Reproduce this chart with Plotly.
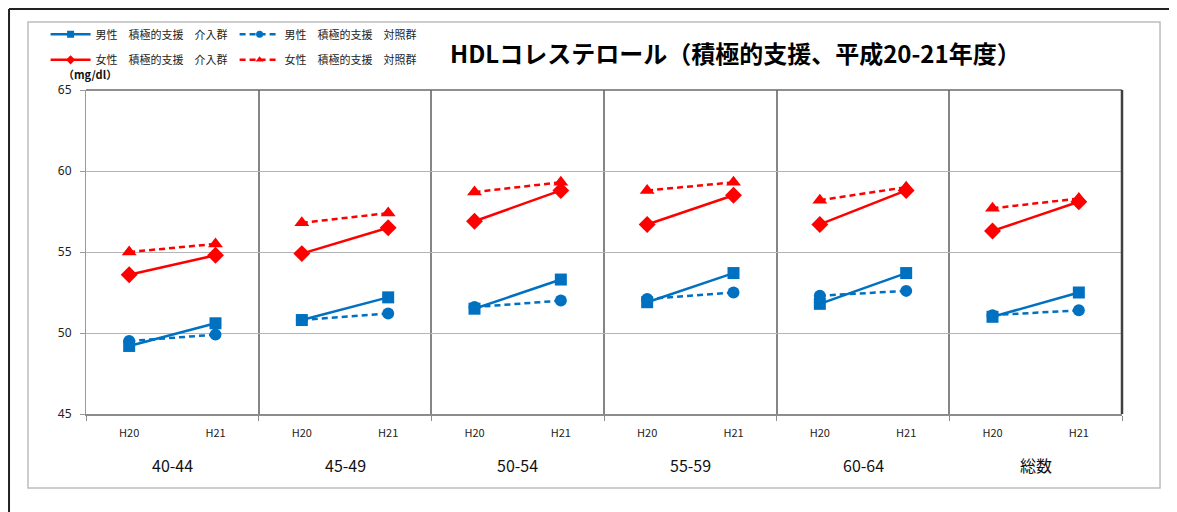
import plotly.graph_objects as go

groups = ["40-44", "45-49", "50-54", "55-59", "60-64", "総数"]
years = ["H20", "H21"]

# values in mg/dl, H20 then H21 for each group
male_int = [49.2, 50.6, 50.8, 52.2, 51.5, 53.3, 51.9, 53.7, 51.8, 53.7, 51.0, 52.5]
male_ctl = [49.5, 49.9, 50.8, 51.2, 51.6, 52.0, 52.1, 52.5, 52.3, 52.6, 51.1, 51.4]
female_int = [53.6, 54.8, 54.9, 56.5, 56.9, 58.8, 56.7, 58.5, 56.7, 58.8, 56.3, 58.1]
female_ctl = [55.0, 55.5, 56.8, 57.4, 58.7, 59.3, 58.8, 59.3, 58.2, 59.0, 57.7, 58.3]

series_names = [
    "男性　積極的支援　介入群",
    "男性　積極的支援　対照群",
    "女性　積極的支援　介入群",
    "女性　積極的支援　対照群",
]
title_text = "HDLコレステロール（積極的支援、平成20-21年度）"

BLUE = "#0070C0"
RED = "#FF0000"
FONT = "Noto Sans CJK JP"


def segments(vals):
    # one short line per age group, gaps between groups
    xs, ys = [], []
    n = len(years)
    for gi in range(len(groups)):
        for yi in range(n):
            xs.append(gi * n + yi)
            ys.append(vals[gi * n + yi])
        xs.append(None)
        ys.append(None)
    return xs, ys


styles = [
    (male_int, BLUE, "solid", "square", 12, "legend"),
    (male_ctl, BLUE, "6px,4px", "circle", 12, "legend"),
    (female_int, RED, "solid", "diamond", 13, "legend2"),
    (female_ctl, RED, "6px,4px", "triangle-up", 13, "legend2"),
]

fig = go.Figure()
for name, (vals, color, dash, sym, size, leg) in zip(series_names, styles):
    xs, ys = segments(vals)
    fig.add_trace(go.Scatter(
        x=xs, y=ys, mode="lines+markers", name=name, showlegend=False,
        line=dict(color=color, width=2.5, dash=dash),
        marker=dict(symbol=sym, size=size, color=color),
    ))
    # legend entry with smaller symbol, like the excel legend
    fig.add_trace(go.Scatter(
        x=[None], y=[None], mode="lines+markers", name=name, legend=leg,
        line=dict(color=color, width=2.5, dash=dash),
        marker=dict(symbol=sym, size=7, color=color),
    ))

tickvals = list(range(len(groups) * len(years)))
ticktext = years * len(groups)

for gi, g in enumerate(groups):
    fig.add_annotation(x=gi * len(years) + 0.5, y=-0.157, xref="x", yref="paper",
                       xanchor="center", yanchor="middle",
                       text=g, showarrow=False, font=dict(size=16, color="#111"))

fig.add_annotation(x=0.004, y=1.048, xref="paper", yref="paper", text="<b>（mg/dl）</b>",
                   xanchor="center", yanchor="middle",
                   showarrow=False, font=dict(size=11, color="#111"))
fig.add_annotation(x=0.6265, y=1.117, xref="paper", yref="paper", text="<b>" + title_text + "</b>",
                   xanchor="center", yanchor="middle",
                   showarrow=False, font=dict(size=24, color="#000"))

# frames
fig.add_shape(type="rect", xref="paper", yref="paper", x0=-0.056, x1=1.0367,
              y0=-0.2284, y1=1.2099, line=dict(color="#bdbdbd", width=1.5), layer="below")
fig.add_shape(type="line", xref="paper", yref="paper", x0=-0.0743, x1=1.1, y0=1.25, y1=1.25,
              line=dict(color="#222", width=2))
fig.add_shape(type="line", xref="paper", yref="paper", x0=-0.0743, x1=-0.0743, y0=-0.31, y1=1.25,
              line=dict(color="#222", width=2))
fig.add_shape(type="line", xref="paper", yref="paper", x0=0, x1=1, y0=1, y1=1,
              line=dict(color="#6a6a6a", width=1.5))
fig.add_shape(type="line", xref="paper", yref="paper", x0=1, x1=1, y0=0, y1=1,
              line=dict(color="#404040", width=2.5))

fig.update_layout(
    width=1177, height=512,
    # page body adds 8px, so margins are 8px smaller than the target positions
    margin=dict(l=78, r=63, t=82, b=106),
    paper_bgcolor="white", plot_bgcolor="white",
    font=dict(family=FONT, color="#222"),
    legend=dict(orientation="h", x=-0.039, y=1.172, xanchor="left", yanchor="middle",
                entrywidth=134, itemwidth=40, font=dict(size=11, color="#222"),
                bgcolor="rgba(0,0,0,0)"),
    legend2=dict(orientation="h", x=-0.039, y=1.093, xanchor="left", yanchor="middle",
                 entrywidth=134, itemwidth=40, font=dict(size=11, color="#222"),
                 bgcolor="rgba(0,0,0,0)"),
    xaxis=dict(
        range=[-0.5, len(tickvals) - 0.5], tickmode="array", tickvals=tickvals, ticktext=ticktext,
        showgrid=False, ticks="", showline=True, linecolor="#8c8c8c", linewidth=1.5,
        tickfont=dict(size=11, color="#222"), ticklabelstandoff=8, zeroline=False,
        minor=dict(tickmode="linear", tick0=-0.5, dtick=len(years), showgrid=True,
                   gridcolor="#858585", gridwidth=2, ticks="outside", ticklen=5,
                   tickcolor="#8c8c8c"),
    ),
    yaxis=dict(
        range=[45, 65], dtick=5, showgrid=True, gridcolor="#b4b4b4", gridwidth=1,
        ticks="outside", ticklen=5, tickcolor="#9a9a9a", showline=True, linecolor="#9a9a9a",
        linewidth=1, tickfont=dict(family="Noto Sans", size=12, color="#222"), zeroline=False,
        ticklabelstandoff=6,
    ),
)

fig.write_html("out.html")
